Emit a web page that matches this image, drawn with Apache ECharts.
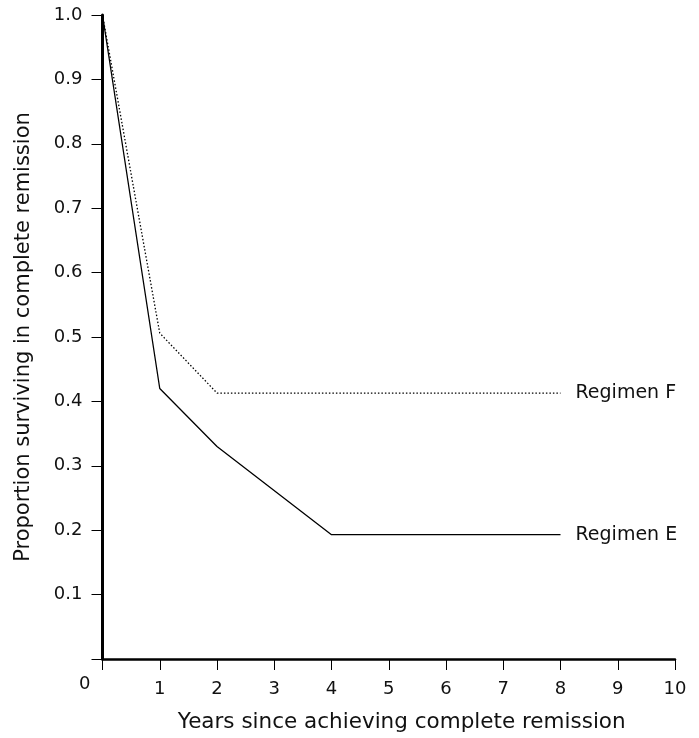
<!DOCTYPE html>
<html>
<head>
<meta charset="utf-8">
<script src="https://cdn.jsdelivr.net/npm/echarts@6/dist/echarts.min.js"></script>
<style>
html,body{margin:0;padding:0;background:#fff;}
#chart{width:699px;height:738px;}
</style>
</head>
<body>
<div id="chart"></div>
<script>
var years = [0, 1, 2, 4, 8];
var regimenE = [1.0, 0.42, 0.33, 0.193, 0.193];
var yearsF = [0, 1, 2, 8];
var regimenF = [1.0, 0.506, 0.413, 0.413];
var xTicks = [0, 1, 2, 3, 4, 5, 6, 7, 8, 9, 10];
var yTicks = [0, 0.1, 0.2, 0.3, 0.4, 0.5, 0.6, 0.7, 0.8, 0.9, 1.0];

var font = '"DejaVu Sans", Verdana, sans-serif';
var chart = echarts.init(document.getElementById('chart'), null, {renderer: 'canvas'});

function pairs(xs, ys) { return xs.map(function (x, i) { return [x, ys[i]]; }); }

chart.setOption({
  backgroundColor: '#fff',
  animation: false,
  grid: {left: 102.5, right: 24, top: 15, bottom: 70, containLabel: false},
  xAxis: {
    type: 'value', min: xTicks[0], max: xTicks[xTicks.length - 1], interval: 1,
    name: 'Years since achieving complete remission',
    nameLocation: 'middle', nameGap: 52,
    nameTextStyle: {fontFamily: font, fontSize: 21.5, color: '#111', padding: [0, 0, 0, 26]},
    axisLine: {show: true, lineStyle: {color: '#000', width: 2.5}},
    axisTick: {show: true, length: 11, lineStyle: {color: '#000', width: 1}},
    axisLabel: {fontFamily: font, fontSize: 18, color: '#111', margin: 21,
      formatter: function (v) { return v === 0 ? '' : String(v); }},
    splitLine: {show: false}
  },
  yAxis: {
    type: 'value', min: yTicks[0], max: yTicks[yTicks.length - 1], interval: 0.1,
    name: 'Proportion surviving in complete remission',
    nameLocation: 'middle', nameGap: 68,
    nameTextStyle: {fontFamily: font, fontSize: 21, color: '#111'},
    axisLine: {show: true, lineStyle: {color: '#000', width: 3}},
    axisTick: {show: true, length: 11, lineStyle: {color: '#000', width: 1}},
    axisLabel: {fontFamily: font, fontSize: 18, color: '#111', margin: 20,
      formatter: function (v) { return v === 0 ? '' : v.toFixed(1); }},
    splitLine: {show: false}
  },
  graphic: [{
    type: 'text', left: 79, top: 675.5,
    style: {text: String(xTicks[0]), fontFamily: font, fontSize: 18, fill: '#111'}
  }],
  series: [
    {
      name: 'Regimen E', type: 'line', data: pairs(years, regimenE),
      showSymbol: false, symbol: 'none',
      lineStyle: {color: '#000', width: 1.3, type: 'solid'},
      endLabel: {show: true, formatter: '{a}', distance: 15,
        fontFamily: font, fontSize: 19, color: '#111'}
    },
    {
      name: 'Regimen F', type: 'line', data: pairs(yearsF, regimenF),
      showSymbol: false, symbol: 'none',
      lineStyle: {color: '#000', width: 1.3, type: [1.5, 2]},
      endLabel: {show: true, formatter: '{a}', distance: 15,
        fontFamily: font, fontSize: 19, color: '#111'}
    }
  ]
});
</script>
</body>
</html>
